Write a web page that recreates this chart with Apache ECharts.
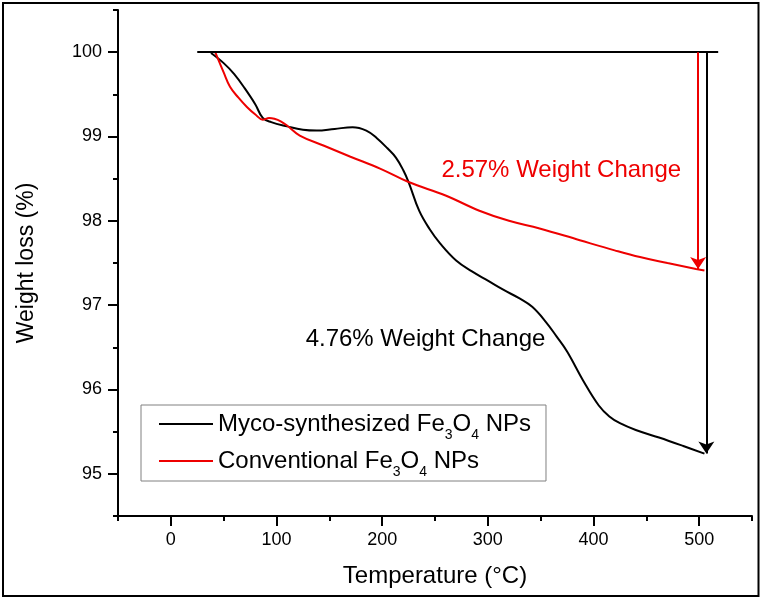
<!DOCTYPE html>
<html>
<head>
<meta charset="utf-8">
<script src="https://cdn.jsdelivr.net/npm/echarts@6/dist/echarts.min.js"></script>
<style>html,body{margin:0;padding:0;background:#fff}#c{width:762px;height:599px}</style>
</head>
<body>
<div id="c"></div>
<script>
// ---- data ----
var mycoT = [38, 50, 60, 70, 80, 87, 95, 110, 125, 138, 155, 172, 185, 195, 205, 213, 220, 225, 235, 245, 255, 270, 285, 300, 315, 330, 342, 355, 365, 375, 390, 405, 415, 425, 440, 462, 485, 505];
var mycoW = [99.99, 99.87, 99.74, 99.57, 99.38, 99.22, 99.17, 99.12, 99.08, 99.07, 99.09, 99.11, 99.07, 98.98, 98.86, 98.75, 98.60, 98.46, 98.12, 97.90, 97.73, 97.53, 97.40, 97.29, 97.18, 97.08, 96.98, 96.80, 96.63, 96.45, 96.11, 95.81, 95.68, 95.60, 95.52, 95.43, 95.33, 95.24];
var convT = [42, 50, 56, 64, 72, 80, 87, 93, 98, 104, 110, 122, 145, 170, 198, 225, 260, 292, 320, 349, 387, 420, 444, 470, 497, 505];
var convW = [100.0, 99.76, 99.59, 99.46, 99.35, 99.26, 99.20, 99.22, 99.21, 99.18, 99.13, 99.01, 98.89, 98.76, 98.62, 98.46, 98.30, 98.12, 98.00, 97.91, 97.77, 97.65, 97.57, 97.50, 97.43, 97.41];
var seriesNames = ['Myco-synthesized Fe3O4 NPs', 'Conventional Fe3O4 NPs'];
var legendRich = {
  'Myco-synthesized Fe3O4 NPs': '{n|Myco-synthesized Fe}{s|3}{n|O}{s|4}{n| NPs}',
  'Conventional Fe3O4 NPs': '{n|Conventional Fe}{s|3}{n|O}{s|4}{n| NPs}'
};
var xTickLabels = [0, 100, 200, 300, 400, 500];
var xMinorTicks = [-50, 50, 150, 250, 350, 450, 550];
var yTickLabels = [95, 96, 97, 98, 99, 100];
var yMinorTicks = [94.5, 95.5, 96.5, 97.5, 98.5, 99.5, 100.5];
var baseline = {value: 100, from: 25, to: 518};
var convChange = {label: '2.57% Weight Change', x: 499, to: 97.43, textX: 369.5, textY: 98.60};
var mycoChange = {label: '4.76% Weight Change', x: 506.8, to: 95.24, textX: 241, textY: 96.59};

var FONT = '"Liberation Sans", Arial, Helvetica, sans-serif';
var RED = '#ee0000';

function pairs(t, w) { return t.map(function (v, i) { return [v, w[i]]; }); }

var chart = echarts.init(document.getElementById('c'), null, {renderer: 'canvas'});
chart.setOption({
  animation: false,
  backgroundColor: '#fff',
  grid: {left: 118, right: 10, top: 10, bottom: 83, containLabel: false},
  xAxis: [{
    type: 'value', min: -50, max: 550, position: 'bottom',
    name: 'Temperature (°C)', nameLocation: 'middle', nameGap: 48,
    nameTextStyle: {fontFamily: FONT, fontSize: 24, color: '#000'},
    axisLine: {show: true, onZero: false, lineStyle: {color: '#000', width: 2}},
    axisTick: {show: true, inside: false, length: 10, lineStyle: {color: '#000', width: 2}, customValues: xTickLabels},
    axisLabel: {show: true, margin: 15, fontFamily: FONT, fontSize: 18, color: '#000', customValues: xTickLabels},
    splitLine: {show: false}
  }, {
    type: 'value', min: -50, max: 550, position: 'bottom',
    axisLine: {show: false, onZero: false},
    axisTick: {show: true, inside: false, length: 5, lineStyle: {color: '#000', width: 2}, customValues: xMinorTicks},
    axisLabel: {show: false},
    splitLine: {show: false}
  }],
  yAxis: [{
    type: 'value', min: 94.5, max: 100.5, position: 'left',
    name: 'Weight loss (%)', nameLocation: 'middle', nameGap: 80,
    nameTextStyle: {fontFamily: FONT, fontSize: 23, color: '#000'},
    axisLine: {show: true, onZero: false, lineStyle: {color: '#000', width: 2}},
    axisTick: {show: true, inside: false, length: 10, lineStyle: {color: '#000', width: 2}, customValues: yTickLabels},
    axisLabel: {show: true, margin: 16, fontFamily: FONT, fontSize: 18, color: '#000', customValues: yTickLabels},
    splitLine: {show: false}
  }, {
    type: 'value', min: 94.5, max: 100.5, position: 'left',
    axisLine: {show: false, onZero: false},
    axisTick: {show: true, inside: false, length: 5, lineStyle: {color: '#000', width: 2}, customValues: yMinorTicks},
    axisLabel: {show: false},
    splitLine: {show: false}
  }],
  legend: {
    orient: 'vertical', left: 141, top: 405,
    data: seriesNames,
    icon: 'rect', itemWidth: 54, itemHeight: 2, itemGap: 7,
    padding: [7, 15, 2, 18],
    borderColor: '#808080', borderWidth: 1,
    backgroundColor: '#fff',
    formatter: function (name) { return legendRich[name]; },
    textStyle: {
      fontFamily: FONT, color: '#000',
      rich: {
        n: {fontFamily: FONT, fontSize: 24, color: '#000'},
        s: {fontFamily: FONT, fontSize: 14, color: '#000', padding: [22, 0, 0, 0]}
      }
    }
  },
  series: [{
    name: seriesNames[0], type: 'line', data: pairs(mycoT, mycoW),
    showSymbol: false, symbol: 'none', smooth: 0.4,
    lineStyle: {color: '#000', width: 2}, itemStyle: {color: '#000'},
    markLine: {
      silent: true, animation: false, symbol: ['none', 'none'],
      label: {show: false},
      lineStyle: {color: '#000', width: 2, type: 'solid'},
      data: [
        [{coord: [baseline.from, baseline.value]}, {coord: [baseline.to, baseline.value]}],
        [{coord: [mycoChange.x, baseline.value], symbol: 'none'}, {coord: [mycoChange.x, mycoChange.to], symbol: 'arrow', symbolSize: 12}]
      ]
    },
    markPoint: {
      silent: true, symbol: 'circle', symbolSize: 0,
      data: [{coord: [mycoChange.textX, mycoChange.textY], label: {show: true, position: 'inside', formatter: mycoChange.label, fontFamily: FONT, fontSize: 24, color: '#000'}}]
    }
  }, {
    name: seriesNames[1], type: 'line', data: pairs(convT, convW),
    showSymbol: false, symbol: 'none', smooth: 0.4,
    lineStyle: {color: RED, width: 2}, itemStyle: {color: RED},
    markLine: {
      silent: true, animation: false, symbol: ['none', 'none'],
      label: {show: false},
      lineStyle: {color: RED, width: 2, type: 'solid'},
      data: [
        [{coord: [convChange.x, baseline.value], symbol: 'none'}, {coord: [convChange.x, convChange.to], symbol: 'arrow', symbolSize: 12}]
      ]
    },
    markPoint: {
      silent: true, symbol: 'circle', symbolSize: 0,
      data: [{coord: [convChange.textX, convChange.textY], label: {show: true, position: 'inside', formatter: convChange.label, fontFamily: FONT, fontSize: 24, color: RED}}]
    }
  }],
  graphic: [{
    type: 'rect', silent: true, z: 100,
    shape: {x: 3, y: 3, width: 755.5, height: 593},
    style: {fill: 'none', stroke: '#000', lineWidth: 2}
  }]
});
</script>
</body>
</html>
